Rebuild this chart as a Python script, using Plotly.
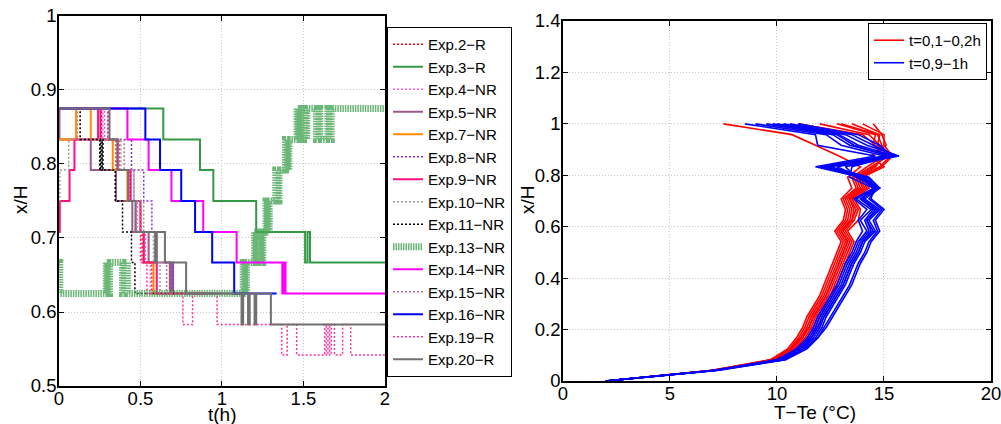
import plotly.graph_objects as go

# ---------------- Left panel: x/H step series vs t(h) ----------------
t_exp2 = [0, 0.11, 0.26, 0.35, 0.43, 0.47, 0.51, 0.57, 0.80]
v_exp2 = [0.833, 0.875, 0.833, 0.792, 0.75, 0.708, 0.667, 0.625, 0.625]
t_exp3 = [0, 0.64, 0.865, 0.947, 1.21, 1.51, 1.525, 1.54, 2.0]
v_exp3 = [0.875, 0.833, 0.792, 0.75, 0.708, 0.667, 0.708, 0.667, 0.667]
t_exp4 = [0, 0.27, 0.36, 0.42, 0.48, 0.53, 0.56, 0.90]
v_exp4 = [0.875, 0.833, 0.792, 0.75, 0.708, 0.667, 0.625, 0.625]
t_exp5 = [0, 0.003, 0.195, 0.35, 0.45, 0.55, 0.68, 0.69, 0.70, 1.10]
v_exp5 = [0.875, 0.833, 0.792, 0.75, 0.708, 0.667, 0.625, 0.667, 0.625, 0.625]
t_exp7 = [0, 0.105, 0.195, 0.33, 0.42, 0.50, 0.52, 0.58, 0.90]
v_exp7 = [0.833, 0.875, 0.833, 0.792, 0.75, 0.708, 0.667, 0.625, 0.625]
t_exp8 = [0, 0.30, 0.445, 0.52, 0.57, 0.65, 0.70, 1.00]
v_exp8 = [0.875, 0.833, 0.792, 0.75, 0.708, 0.667, 0.625, 0.625]
t_exp9 = [0, 0.005, 0.065, 0.095, 0.24, 0.255, 0.36, 0.44, 0.50, 0.52, 0.60, 0.90]
v_exp9 = [0.708, 0.75, 0.792, 0.833, 0.875, 0.833, 0.792, 0.75, 0.708, 0.667, 0.625, 0.625]
t_exp10 = [0, 0.005, 0.06, 0.38, 0.46, 0.52, 0.58, 0.62, 1.00]
v_exp10 = [0.75, 0.792, 0.833, 0.792, 0.75, 0.708, 0.667, 0.625, 0.625]
t_exp11 = [0, 0.13, 0.25, 0.255, 0.26, 0.265, 0.27, 0.345, 0.39, 0.445, 0.466, 0.95]
v_exp11 = [0.875, 0.833, 0.792, 0.833, 0.792, 0.833, 0.792, 0.75, 0.708, 0.667, 0.625, 0.625]
t_exp13 = [0, 0.005, 0.29, 0.30, 0.31, 0.39, 0.40, 0.42, 1.13, 1.14, 1.15, 1.20, 1.21,
           1.22, 1.24, 1.25, 1.27, 1.28, 1.29, 1.33, 1.34, 1.35, 1.39, 1.40, 1.41, 1.46,
           1.47, 1.48, 1.49, 1.50, 1.51, 1.52, 1.58, 1.59, 1.60, 1.65, 1.66, 1.67, 2.0]
v_exp13 = [0.667, 0.625, 0.667, 0.625, 0.667, 0.625, 0.667, 0.625, 0.667, 0.625, 0.667, 0.708, 0.667,
           0.708, 0.667, 0.708, 0.75, 0.708, 0.75, 0.792, 0.75, 0.792, 0.833, 0.792, 0.833, 0.875,
           0.833, 0.875, 0.833, 0.875, 0.833, 0.875, 0.833, 0.875, 0.833, 0.875, 0.833, 0.875, 0.875]
t_exp14 = [0, 0.42, 0.55, 0.69, 0.885, 1.09, 1.37, 1.38, 1.39, 2.0]
v_exp14 = [0.875, 0.833, 0.792, 0.75, 0.708, 0.667, 0.625, 0.667, 0.625, 0.625]
t_exp15 = [0, 0.28, 0.40, 0.46, 0.50, 0.60, 0.66, 0.90]
v_exp15 = [0.875, 0.833, 0.792, 0.75, 0.708, 0.667, 0.625, 0.625]
t_exp16 = [0, 0.53, 0.62, 0.75, 0.835, 0.94, 1.075, 1.335]
v_exp16 = [0.875, 0.833, 0.792, 0.75, 0.708, 0.667, 0.625, 0.625]
t_exp19 = [0, 0.30, 0.37, 0.43, 0.47, 0.50, 0.54, 0.76, 0.82, 0.97, 1.366, 1.40, 1.458,
           1.63, 1.64, 1.65, 1.66, 1.67, 1.69, 1.74, 1.79, 2.0]
v_exp19 = [0.875, 0.833, 0.792, 0.75, 0.708, 0.667, 0.625, 0.583, 0.625, 0.583, 0.542, 0.583, 0.542,
           0.583, 0.542, 0.583, 0.542, 0.583, 0.542, 0.583, 0.542, 0.542]
t_exp20 = [0, 0.31, 0.36, 0.425, 0.47, 0.59, 0.60, 0.65, 0.78, 1.12, 1.13, 1.16, 1.17, 1.20, 1.21, 1.30, 2.0]
v_exp20 = [0.875, 0.833, 0.792, 0.75, 0.708, 0.667, 0.708, 0.667, 0.625, 0.583, 0.625, 0.583, 0.625,
           0.583, 0.625, 0.583, 0.583]

exp_labels = ["Exp.2−R", "Exp.3−R", "Exp.4−NR", "Exp.5−NR", "Exp.7−NR", "Exp.8−NR", "Exp.9−NR",
              "Exp.10−NR", "Exp.11−NR", "Exp.13−NR", "Exp.14−NR", "Exp.15−NR", "Exp.16−NR",
              "Exp.19−R", "Exp.20−R"]

# ---------------- Right panel: temperature profiles ----------------
xh_levels = [0, 0.042, 0.083, 0.125, 0.167, 0.208, 0.25, 0.292, 0.333, 0.375, 0.417, 0.458, 0.5,
             0.542, 0.583, 0.625, 0.667, 0.708, 0.75, 0.792, 0.833, 0.875, 0.917, 0.958, 1.0]

red_1 = [2.0, 7.0, 9.7, 10.5, 10.9, 11.2, 11.4, 11.7, 12.0, 12.2, 12.4, 12.6, 12.8, 13.0, 12.7, 13.1, 13.2, 13.0, 13.5, 13.3, 13.9, 12.9, 11.8, 10.7, 7.5]
red_2 = [2.0, 7.1, 9.8, 10.6, 11.0, 11.3, 11.5, 11.8, 12.1, 12.3, 12.5, 12.7, 12.9, 13.1, 12.8, 13.2, 13.3, 13.1, 13.7, 13.5, 14.2, 15.0, 14.6, 14.0, 11.0]
red_3 = [2.0, 7.0, 9.8, 10.6, 11.1, 11.4, 11.6, 11.9, 12.2, 12.4, 12.6, 12.8, 13.0, 13.2, 12.9, 13.3, 13.4, 13.2, 13.8, 13.6, 14.4, 15.2, 14.8, 14.3, 12.0]
red_4 = [2.0, 7.1, 9.9, 10.7, 11.2, 11.5, 11.7, 12.0, 12.3, 12.5, 12.7, 12.9, 13.1, 13.3, 13.0, 13.4, 13.5, 13.3, 13.9, 13.7, 14.6, 15.0, 14.5, 14.6, 12.8]
red_5 = [2.0, 7.0, 9.9, 10.8, 11.3, 11.6, 11.8, 12.1, 12.4, 12.6, 12.8, 13.0, 13.2, 13.4, 13.1, 13.5, 13.7, 13.4, 14.1, 13.8, 14.8, 15.3, 14.7, 14.8, 13.5]
red_6 = [2.0, 7.2, 10.0, 10.9, 11.4, 11.7, 11.9, 12.2, 12.5, 12.7, 12.9, 13.1, 13.3, 13.5, 13.2, 13.6, 13.8, 13.5, 14.2, 13.9, 14.9, 15.4, 15.0, 15.0, 14.0]
red_7 = [2.0, 7.1, 10.0, 10.9, 11.5, 11.8, 12.0, 12.3, 12.6, 12.8, 13.0, 13.2, 13.4, 13.6, 13.3, 13.8, 13.9, 13.6, 14.3, 14.0, 15.0, 14.4, 15.1, 14.9, 14.5]
red_8 = [2.0, 7.0, 9.8, 10.7, 11.1, 11.5, 11.7, 12.0, 12.3, 12.5, 12.7, 12.9, 13.1, 13.3, 13.0, 13.5, 13.6, 13.4, 14.0, 13.8, 14.5, 15.1, 14.9, 14.7, 13.0]

blue_1 = [2.0, 7.1, 10.0, 10.9, 11.4, 11.7, 11.9, 12.2, 12.5, 12.8, 13.0, 13.2, 13.5, 13.7, 14.0, 13.8, 14.2, 13.6, 14.5, 13.9, 11.8, 14.6, 11.9, 11.8, 8.5]
blue_2 = [2.0, 7.2, 10.1, 11.0, 11.5, 11.8, 12.0, 12.3, 12.6, 12.9, 13.1, 13.3, 13.6, 13.8, 14.2, 13.9, 14.4, 13.7, 14.6, 14.0, 12.0, 15.0, 13.0, 12.3, 9.0]
blue_3 = [2.0, 7.1, 10.2, 11.1, 11.6, 11.9, 12.1, 12.4, 12.7, 13.0, 13.2, 13.4, 13.7, 13.9, 14.3, 14.1, 14.5, 13.9, 14.7, 14.2, 12.2, 15.3, 13.4, 12.6, 9.5]
blue_4 = [2.0, 7.2, 10.3, 11.2, 11.7, 12.0, 12.2, 12.5, 12.8, 13.1, 13.3, 13.5, 13.8, 14.0, 14.5, 14.2, 14.7, 14.0, 14.8, 14.3, 12.5, 15.5, 13.8, 12.9, 10.0]
blue_5 = [2.0, 7.3, 10.4, 11.3, 11.8, 12.1, 12.3, 12.6, 12.9, 13.2, 13.4, 13.6, 13.9, 14.1, 14.6, 14.3, 14.8, 14.1, 14.8, 13.9, 12.8, 15.7, 14.2, 13.2, 10.3]
blue_6 = [2.0, 7.2, 10.4, 11.4, 11.9, 12.2, 12.5, 12.8, 13.1, 13.4, 13.6, 13.8, 14.1, 14.3, 14.7, 14.5, 14.9, 14.3, 14.7, 13.7, 13.2, 15.6, 14.5, 13.5, 10.6]
blue_7 = [2.0, 7.1, 10.3, 11.3, 11.9, 12.3, 12.6, 12.9, 13.2, 13.5, 13.7, 13.9, 14.2, 14.4, 14.8, 14.6, 15.0, 14.4, 14.5, 13.4, 13.5, 15.4, 14.8, 13.8, 11.0]
blue_8 = [2.0, 7.2, 10.2, 11.1, 11.6, 11.9, 12.2, 12.5, 12.8, 13.1, 13.3, 13.5, 13.8, 14.0, 14.4, 14.2, 14.6, 13.9, 14.6, 14.1, 12.4, 15.2, 13.6, 12.8, 9.8]

red_label = "t=0,1−0,2h"
blue_label = "t=0,9−1h"

# ---------------- Figure ----------------
FONT = "Liberation Sans, Arial, sans-serif"
W, H = 1001, 424
fig = go.Figure()

left_series = [
    (t_exp2, v_exp2, "#ff0000", 1.5, "2px,2px"),
    (t_exp3, v_exp3, "#339944", 2, "solid"),
    (t_exp4, v_exp4, "#ff55ff", 1.5, "2px,2px"),
    (t_exp5, v_exp5, "#9a5a8a", 2, "solid"),
    (t_exp7, v_exp7, "#ff8c00", 2, "solid"),
    (t_exp8, v_exp8, "#8a2be2", 1.5, "2px,2px"),
    (t_exp9, v_exp9, "#ff1080", 2, "solid"),
    (t_exp10, v_exp10, "#999999", 1.5, "2px,2px"),
    (t_exp11, v_exp11, "#000000", 1.5, "2px,2px"),
    (t_exp13, v_exp13, "rgba(70,165,85,0.8)", 7, "1.5px,1px"),
    (t_exp14, v_exp14, "#ff00ff", 2, "solid"),
    (t_exp15, v_exp15, "#b070a0", 1.5, "2px,2px"),
    (t_exp16, v_exp16, "#0000ff", 2, "solid"),
    (t_exp19, v_exp19, "#ff3399", 1.5, "2px,2px"),
    (t_exp20, v_exp20, "#707070", 2, "solid"),
]
for (tt, vv, col, w, dash), name in zip(left_series, exp_labels):
    fig.add_trace(go.Scatter(x=tt, y=vv, mode="lines", name=name, line_shape="hv",
                             line=dict(color=col, width=w, dash=dash),
                             xaxis="x", yaxis="y", legend="legend"))

reds = [red_1, red_2, red_3, red_4, red_5, red_6, red_7, red_8]
blues = [blue_1, blue_2, blue_3, blue_4, blue_5, blue_6, blue_7, blue_8]
for i, r in enumerate(reds):
    fig.add_trace(go.Scatter(x=r, y=xh_levels, mode="lines", name=red_label,
                             legendgroup="red", showlegend=(i == 0),
                             line=dict(color="#ff0000", width=1.6),
                             xaxis="x2", yaxis="y2", legend="legend2"))
for i, b in enumerate(blues):
    fig.add_trace(go.Scatter(x=b, y=xh_levels, mode="lines", name=blue_label,
                             legendgroup="blue", showlegend=(i == 0),
                             line=dict(color="#0000ff", width=1.6),
                             xaxis="x2", yaxis="y2", legend="legend2"))

axis_common = dict(showline=True, linecolor="black", linewidth=1.5, mirror="ticks",
                   ticks="inside", ticklen=5, tickcolor="black", automargin=False,
                   ticklabeloverflow="allow",
                   showgrid=True, gridcolor="#c8c8c8", griddash="1px,2px", gridwidth=1,
                   zeroline=False, tickfont=dict(size=18.5, color="black", family=FONT))

fig.update_layout(
    width=W, height=H,
    margin=dict(l=0, r=0, t=0, b=0, autoexpand=False),
    paper_bgcolor="white", plot_bgcolor="white",
    font=dict(family=FONT, color="black", size=18),
    xaxis=dict(domain=[0.0589, 0.3846], range=[0, 2], tickvals=[0, 0.5, 1, 1.5, 2],
               ticktext=["0", "0.5", "1", "1.5", "2"], anchor="y", ticklabelstandoff=-5,
               **axis_common),
    yaxis=dict(domain=[0.0896, 0.9623], range=[0.5, 1], tickvals=[0.5, 0.6, 0.7, 0.8, 0.9, 1],
               ticktext=["0.5", "0.6", "0.7", "0.8", "0.9", "1"], anchor="x", ticklabelstandoff=-3,
               **axis_common),
    xaxis2=dict(domain=[0.5624, 0.99], range=[0, 20], tickvals=[0, 5, 10, 15, 20],
                anchor="y2", ticklabelstandoff=-5, **axis_common),
    yaxis2=dict(domain=[0.1014, 0.9505], range=[0, 1.4], tickvals=[0, 0.2, 0.4, 0.6, 0.8, 1, 1.2, 1.4],
                ticktext=["0", "0.2", "0.4", "0.6", "0.8", "1", "1.2", "1.4"], anchor="x2",
                ticklabelstandoff=-3, **axis_common),
    legend=dict(x=0.3866, y=0.9363, xanchor="left", yanchor="top",
                bgcolor="white", bordercolor="black", borderwidth=1,
                font=dict(size=15, family=FONT), tracegroupgap=0, itemwidth=30),
    legend2=dict(x=0.986, y=0.9458, xanchor="right", yanchor="top",
                 bgcolor="white", bordercolor="black", borderwidth=1,
                 font=dict(size=15, family=FONT), tracegroupgap=0, itemwidth=30),
    annotations=[
        dict(text="x/H", x=20 / W, y=1 - 200 / H, textangle=-90),
        dict(text="t(h)", x=222 / W, y=1 - 414 / H),
        dict(text="x/H", x=527 / W, y=1 - 200 / H, textangle=-90),
        dict(text="T−Te (°C)", x=815 / W, y=1 - 412 / H),
    ],
)
fig.update_annotations(xref="paper", yref="paper", showarrow=False, xanchor="center",
                       yanchor="middle", font=dict(size=19, family=FONT, color="black"))

fig.write_html("out.html", config={"displayModeBar": False},
               post_script="document.body.style.margin='0px';"
                           "document.body.style.overflow='hidden';")
